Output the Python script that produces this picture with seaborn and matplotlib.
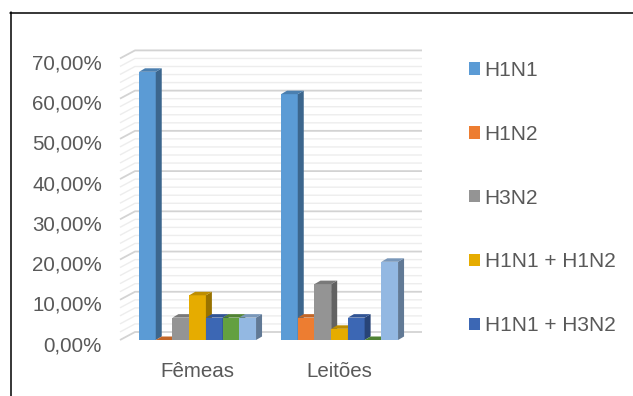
import numpy as np
import pandas as pd
import matplotlib
matplotlib.use("Agg")
import matplotlib.pyplot as plt
from matplotlib.patches import Polygon, Patch
from matplotlib.lines import Line2D
from matplotlib.ticker import FuncFormatter, FixedLocator
from matplotlib.transforms import ScaledTranslation
import seaborn as sns

# Frequency of influenza subtypes per animal group (%)
categorias = ["Fêmeas", "Leitões"]
subtipos = ["H1N1", "H1N2", "H3N2", "H1N1 + H1N2", "H1N1 + H3N2",
            "H1N2 + H3N2", "H1N1 + H1N2 + H3N2"]
femeas = [66.67, 0.00, 5.56, 11.11, 5.56, 5.56, 5.56]
leitoes = [61.11, 5.56, 13.89, 2.78, 5.56, 0.00, 19.44]
cores = ["#5B9BD5", "#ED7D31", "#949494", "#E6AC00", "#3C67B4", "#63A040", "#93B8E2"]
y_ticks = [0, 10, 20, 30, 40, 50, 60, 70]
n_legenda = 5  # entries that fit in the legend box

df = pd.DataFrame({
    "categoria": np.repeat(categorias, len(subtipos)),
    "subtipo": subtipos * len(categorias),
    "percentual": femeas + leitoes,
})

sns.set_theme(style="white")
plt.rcParams["font.family"] = ["Liberation Sans", "DejaVu Sans"]

W, H = 633, 396
fig = plt.figure(figsize=(W / 100, H / 100), dpi=100)
fig.patch.set_facecolor("white")
ax = fig.add_axes([120 / W, (H - 340) / H, 287 / W, (340 - 58.4) / H])

sns.barplot(data=df, x="categoria", y="percentual", hue="subtipo",
            order=categorias, hue_order=subtipos, palette=cores,
            width=0.824, saturation=1, errorbar=None, legend=False,
            linewidth=0, ax=ax)
ax.set_xlim(-0.546, 1.475)
ax.set_ylim(0, 70)
ax.set_xlabel("")
ax.set_ylabel("")
ax.set_facecolor("none")
for s in ax.spines.values():
    s.set_visible(False)

# pixel -> data conversions for the pseudo-3D depth
p0 = ax.transData.transform((0, 0))
p1 = ax.transData.transform((1, 10))
sx = p1[0] - p0[0]
sy = (p1[1] - p0[1]) / 10
bdx, bdy = 6 / sx, 3.5 / sy      # bar depth
wdx, wdy = 15 / sx, 8 / sy       # wall depth

# side wall and back wall gridlines
xl, xr = ax.get_xlim()
for v in np.arange(0, 70.01, 2):
    major = abs(v % 10) < 1e-6
    ax.plot([xl, xl + wdx, xr + wdx], [v, v + wdy, v + wdy],
            color="#D3D3D3" if major else "#EDEDED",
            lw=1.3 if major else 1.0, clip_on=False, zorder=0.5,
            solid_capstyle="butt")


def shade(c, f):
    r, g, b = matplotlib.colors.to_rgb(c)
    return (r * f, g * f, b * f)


# extrude every bar: right side face and top face
bars = sorted([p for p in ax.patches if isinstance(p, matplotlib.patches.Rectangle)
               and p.get_width() > 0], key=lambda p: p.get_x())
for i, bar in enumerate(bars):
    x0 = bar.get_x()
    x1 = x0 + bar.get_width()
    h = bar.get_height()
    fc = bar.get_facecolor()
    z = 2 + 3 * i
    bar.set_zorder(z)
    side = Polygon([(x1, 0), (x1, h), (x1 + bdx, h + bdy), (x1 + bdx, bdy)],
                   closed=True, facecolor=shade(fc, 0.66), edgecolor="none",
                   zorder=z + 1, clip_on=False)
    top = Polygon([(x0, h), (x1, h), (x1 + bdx, h + bdy), (x0 + bdx, h + bdy)],
                  closed=True, facecolor=shade(fc, 0.82), edgecolor="none",
                  zorder=z + 2, clip_on=False)
    ax.add_patch(side)
    ax.add_patch(top)

ax.yaxis.set_major_locator(FixedLocator(y_ticks))
ax.yaxis.set_major_formatter(
    FuncFormatter(lambda v, p: f"{v:.2f}".replace(".", ",") + "%"))
ax.tick_params(axis="y", length=0, pad=13, labelsize=14.8, labelcolor="#595959")
ax.tick_params(axis="x", length=0, pad=15.5, labelsize=14.8, labelcolor="#595959")
shift = ScaledTranslation(0, -0.035, fig.dpi_scale_trans)
for lab in ax.get_yticklabels():
    lab.set_transform(lab.get_transform() + shift)

handles = [Patch(facecolor=c, edgecolor="none") for c in cores[:n_legenda]]
fig.legend(handles, subtipos[:n_legenda], loc="upper left",
           bbox_to_anchor=(469 / W, 1 - 61 / H), frameon=False,
           fontsize=15, labelcolor="#595959", handlelength=0.53,
           handleheight=0.53, handletextpad=0.22, labelspacing=2.15,
           borderpad=0, borderaxespad=0)

# chart area border (left and top edges)
fig.add_artist(Line2D([10.5 / W, 10.5 / W], [0, 1 - 12 / H],
                      transform=fig.transFigure, color="black", lw=1.1))
fig.add_artist(Line2D([10 / W, 1], [1 - 12.5 / H, 1 - 12.5 / H],
                      transform=fig.transFigure, color="black", lw=1.1))

fig.savefig("out.png", dpi=100)
